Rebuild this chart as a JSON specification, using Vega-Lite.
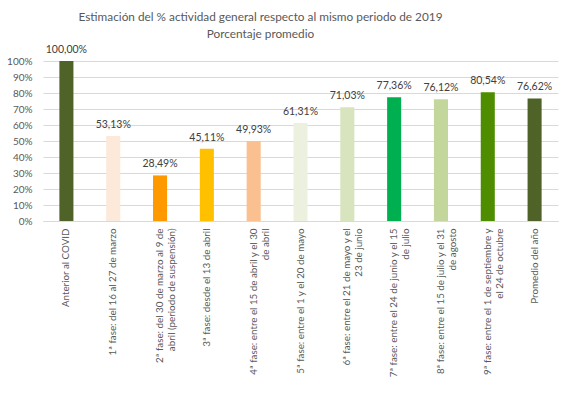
{
  "$schema": "https://vega.github.io/schema/vega-lite/v6.json",
  "autosize": "none",
  "width": 515,
  "height": 160,
  "padding": {"left": 43, "top": 61, "right": 16, "bottom": 173},
  "config": {
    "locale": {"number": {"decimal": ",", "thousands": ".", "grouping": [3], "currency": ["", " €"]}},
    "view": {"stroke": null},
    "font": "Lato"
  },
  "title": {
    "text": ["Estimación del % actividad general respecto al mismo periodo de 2019", "Porcentaje promedio"],
    "fontSize": 11.8,
    "fontWeight": "normal",
    "color": "#595959",
    "anchor": "middle",
    "dx": -40,
    "offset": 4,
    "lineHeight": 17
  },
  "data": {
    "values": [
      {"periodo": "Anterior al COVID", "valor": 1.0, "color": "#4F6228"},
      {"periodo": "1ª fase: del 16 al 27 de marzo", "valor": 0.5313, "color": "#FDE9D9"},
      {"periodo": "2ª fase: del 30 de marzo al 9 de|abril (periodo de suspensión)", "valor": 0.2849, "color": "#FF9900"},
      {"periodo": "3ª fase: desde el 13 de abril", "valor": 0.4511, "color": "#FFC000"},
      {"periodo": "4ª fase: entre el 15 de abril y el 30|de abril", "valor": 0.4993, "color": "#FAC090"},
      {"periodo": "5ª fase: entre el 1 y el 20 de mayo", "valor": 0.6131, "color": "#EBF1DE"},
      {"periodo": "6ª fase: entre el 21 de mayo y el|23 de junio", "valor": 0.7103, "color": "#D7E4BD"},
      {"periodo": "7ª fase: entre el 24 de junio y el 15|de julio", "valor": 0.7736, "color": "#00B050"},
      {"periodo": "8ª fase: entre el 15 de julio y el 31|de agosto", "valor": 0.7612, "color": "#C3D69B"},
      {"periodo": "9ª fase: entre el 1 de septiembre y|el 24 de octubre", "valor": 0.8054, "color": "#4E8C00"},
      {"periodo": "Promedio del año", "valor": 0.7662, "color": "#4F6228"}
    ]
  },
  "encoding": {
    "x": {
      "field": "periodo",
      "type": "nominal",
      "sort": null,
      "scale": {"paddingInner": 0.7, "paddingOuter": 0.35},
      "axis": {
        "title": null,
        "labelAngle": -90,
        "labelExpr": "split(datum.label, '|')",
        "labelFontSize": 9.8,
        "labelColor": "#595959",
        "labelPadding": 7,
        "labelLimit": 200,
        "labelLineHeight": 12,
        "ticks": false,
        "domainColor": "#D9D9D9",
        "domainWidth": 1
      }
    },
    "y": {
      "field": "valor",
      "type": "quantitative",
      "scale": {"domain": [0, 1]},
      "axis": {
        "title": null,
        "format": ".0%",
        "values": [0, 0.1, 0.2, 0.3, 0.4, 0.5, 0.6, 0.7, 0.8, 0.9, 1.0],
        "labelOverlap": false,
        "labelFontSize": 10,
        "labelColor": "#595959",
        "labelPadding": 11,
        "ticks": false,
        "domain": false,
        "gridColor": "#D9D9D9",
        "gridWidth": 1
      }
    }
  },
  "layer": [
    {
      "mark": {"type": "bar"},
      "encoding": {
        "color": {"field": "color", "type": "nominal", "scale": null}
      }
    },
    {
      "mark": {"type": "text", "baseline": "bottom", "dy": -6, "fontSize": 10.5, "color": "#404040"},
      "encoding": {
        "text": {"field": "valor", "type": "quantitative", "format": ".2%"}
      }
    }
  ]
}
